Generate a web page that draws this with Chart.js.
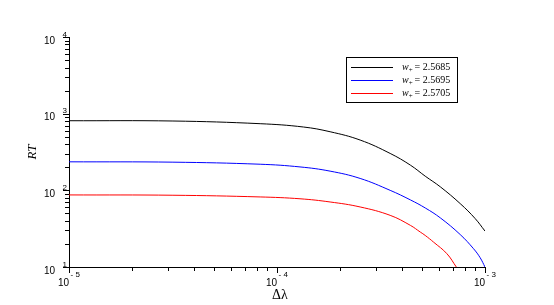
<!DOCTYPE html>
<html>
<head>
<meta charset="utf-8">
<script src="https://cdn.jsdelivr.net/npm/chart.js@4"></script>
<style>
  html, body { margin: 0; padding: 0; background: #fff; }
  #wrap { width: 554px; height: 305px; }
</style>
</head>
<body>
<div id="wrap"><canvas id="rt"></canvas></div>
<script>
// values (delta lambda, RT)
var xA = [1e-5, 3.16e-5, 8.3e-5, 1.34e-4, 1.8e-4, 2.51e-4, 3.5e-4, 4.38e-4, 5.16e-4, 6.1e-4, 7.6e-4, 8.97e-4, 1e-3];
var rtA = [809, 802, 740, 670, 581, 453, 303, 213, 153, 111, 67.1, 42.8, 29.4];

var xB = [1e-5, 3.16e-5, 8.3e-5, 1.29e-4, 1.8e-4, 2.51e-4, 3.5e-4, 4.38e-4, 5.16e-4, 6.1e-4, 7.6e-4, 8.81e-4, 9.48e-4, 1e-3];
var rtB = [235.5, 233, 219, 202, 178, 143, 100, 75, 58.9, 43.7, 26.5, 17.3, 13.2, 10];

var xC = [1e-5, 3.16e-5, 8.3e-5, 1.29e-4, 1.8e-4, 2.51e-4, 3.5e-4, 4.38e-4, 4.89e-4, 5.16e-4, 5.66e-4, 6.56e-4, 7.28e-4];
var rtC = [87.1, 86.3, 82, 77.6, 70.5, 60.7, 47.2, 34.9, 28.5, 25.8, 21.1, 14.9, 10];

var seriesLabels = ["2.5685", "2.5695", "2.5705"];
var seriesColors = ["#000000", "#0000ff", "#ff0000"];

var xExp = [-5, -4, -3];
var yExp = [1, 2, 3, 4];

function pts(xs, ys) {
  return xs.map(function (x, i) { return { x: x, y: ys[i] }; });
}

// log ticks, "10" + exponent labels, axis titles, legend
var axisDeco = {
  id: "axisDeco",
  afterDraw: function (chart) {
    var c = chart.ctx;
    var xs = chart.scales.x, ys = chart.scales.y;
    var area = chart.chartArea;
    c.save();
    c.strokeStyle = "#000";
    c.lineWidth = 1;
    c.beginPath();
    for (var e = 1; e <= 4; e++) {
      for (var k = 1; k <= 9; k++) {
        var v = k * Math.pow(10, e);
        if (v < ys.min || v > ys.max) continue;
        var py = Math.round(ys.getPixelForValue(v)) + 0.5;
        var len = k === 1 ? 6 : 4;
        c.moveTo(area.left - len, py);
        c.lineTo(area.left, py);
      }
    }
    for (var e2 = -5; e2 <= -3; e2++) {
      for (var k2 = 1; k2 <= 9; k2++) {
        var v2 = k2 * Math.pow(10, e2);
        if (v2 < xs.min * 0.999 || v2 > xs.max * 1.001) continue;
        var px = Math.round(xs.getPixelForValue(v2)) + 0.5;
        var len2 = k2 === 1 ? 6 : 4;
        c.moveTo(px, area.bottom);
        c.lineTo(px, area.bottom + len2);
      }
    }
    c.stroke();

    c.fillStyle = "#000";
    c.textBaseline = "middle";
    yExp.forEach(function (n) {
      var py = ys.getPixelForValue(Math.pow(10, n));
      c.font = "10px 'Liberation Sans', Arial, sans-serif";
      c.textAlign = "right";
      c.fillText("10", 55, py + 4);
      c.font = "8px 'Liberation Sans', Arial, sans-serif";
      c.textAlign = "left";
      c.fillText(String(n), 62.5, py - 2.5);
    });
    xExp.forEach(function (n) {
      var px = xs.getPixelForValue(Math.pow(10, n));
      c.font = "10px 'Liberation Sans', Arial, sans-serif";
      c.textAlign = "right";
      c.fillText("10", px, 283.5);
      c.font = "8px 'Liberation Sans', Arial, sans-serif";
      c.textAlign = "left";
      c.fillText("- " + Math.abs(n), px + 1.5, 274.5);
    });

    // axis titles
    c.font = "italic 13px 'Liberation Serif', 'DejaVu Serif', serif";
    c.textAlign = "center";
    c.save();
    c.translate(33, 152);
    c.rotate(-Math.PI / 2);
    c.fillText("RT", 0, 0);
    c.restore();
    c.font = "14px 'Liberation Serif', 'DejaVu Serif', serif";
    c.fillText("\u0394\u03bb", 280, 295);

    // legend box
    c.lineWidth = 1;
    c.strokeStyle = "#000";
    c.strokeRect(346.5, 57.5, 111, 45);
    chart.data.datasets.forEach(function (ds, i) {
      var ly = 67 + i * 13;
      c.strokeStyle = ds.borderColor;
      c.beginPath();
      c.moveTo(351, ly + 0.5);
      c.lineTo(393, ly + 0.5);
      c.stroke();
      var tx = 402;
      c.textAlign = "left";
      c.font = "italic 10px 'Liberation Serif', 'DejaVu Serif', serif";
      c.fillText("w", tx, ly);
      tx += c.measureText("w").width;
      c.font = "7px 'Liberation Serif', 'DejaVu Serif', serif";
      c.fillText("+", tx, ly + 3);
      tx += c.measureText("+").width + 2;
      c.font = "10px 'Liberation Serif', 'DejaVu Serif', serif";
      c.fillText("= " + seriesLabels[i], tx, ly);
    });
    c.restore();
  }
};

var ctx = document.getElementById("rt").getContext("2d");
var rtChart = new Chart(ctx, {
  type: "line",
  data: {
    datasets: [[xA, rtA], [xB, rtB], [xC, rtC]].map(function (s, i) {
      return {
        label: "w+ = " + seriesLabels[i],
        data: pts(s[0], s[1]),
        borderColor: seriesColors[i],
        borderWidth: 1,
        pointRadius: 0,
        tension: 0.4,
        fill: false
      };
    })
  },
  options: {
    responsive: true,
    maintainAspectRatio: false,
    animation: false,
    layout: { padding: { left: 69, right: 69, top: 37, bottom: 38 } },
    plugins: {
      legend: { display: false },
      tooltip: { enabled: false }
    },
    scales: {
      x: {
        type: "logarithmic",
        min: 1e-5,
        max: 1e-3,
        ticks: { display: false },
        grid: { display: false, drawTicks: false },
        border: { display: true, color: "#000", width: 1 }
      },
      y: {
        type: "logarithmic",
        min: 10,
        max: 10000,
        ticks: { display: false },
        grid: { display: false, drawTicks: false },
        border: { display: true, color: "#000", width: 1 }
      }
    }
  },
  plugins: [axisDeco]
});
</script>
</body>
</html>
